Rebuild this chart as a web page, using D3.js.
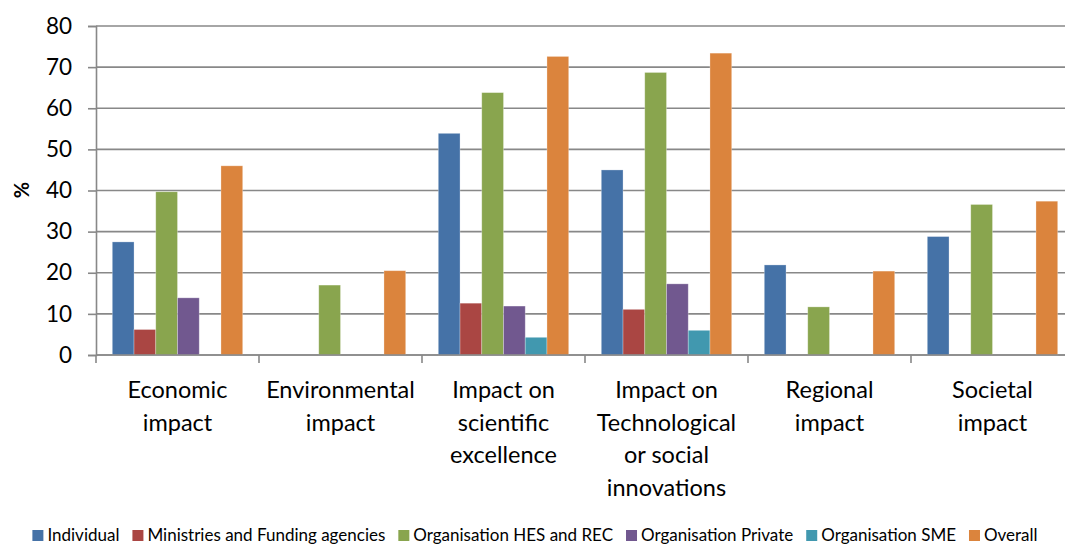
<!DOCTYPE html>
<html><head><meta charset="utf-8">
<script src="https://cdn.jsdelivr.net/npm/d3@7"></script>
<style>body{margin:0;background:#fff}svg{display:block}text{font-family:Lato,"Open Sans",sans-serif;fill:#000}</style>
</head><body><svg id="c" width="1065" height="546"></svg>
<script>
const categories = [
  ["Economic","impact"],
  ["Environmental","impact"],
  ["Impact on","scientific","excellence"],
  ["Impact on","Technological","or social","innovations"],
  ["Regional","impact"],
  ["Societal","impact"]
];
const seriesNames = ["Individual","Ministries and Funding agencies","Organisation HES and REC","Organisation Private","Organisation SME","Overall"];
const individual = [27.5, 0, 53.9, 45.0, 21.9, 28.8];
const ministries = [6.2, 0, 12.6, 11.1, 0, 0];
const hesRec     = [39.7, 17.0, 63.8, 68.7, 11.7, 36.6];
const privateOrg = [13.9, 0, 11.9, 17.3, 0, 0];
const sme        = [0, 0, 4.3, 6.0, 0, 0];
const overall    = [46.0, 20.5, 72.6, 73.4, 20.4, 37.4];
const yTicks = [0,10,20,30,40,50,60,70,80];
const colors = ["#4572A7","#AA4643","#89A54E","#71588F","#4198AF","#DB843D"];
const series = [individual, ministries, hesRec, privateOrg, sme, overall];

const svg = d3.select("#c");
const pL = 96, pR = 1074, pT = 26, pB = 355;
const x0 = d3.scaleBand().domain(d3.range(categories.length)).range([pL, pR]).paddingInner(0.2).paddingOuter(0.1);
const x1 = d3.scaleBand().domain(d3.range(series.length)).range([0, x0.bandwidth()]);
const y = d3.scaleLinear().domain([0, 80]).range([pB, pT]);
const step = x0.step();

// gridlines
svg.append("g").selectAll("line").data(yTicks).join("line")
  .attr("x1", pL).attr("x2", 1065)
  .attr("y1", d => y(d)).attr("y2", d => y(d))
  .attr("stroke", "#888").attr("stroke-width", 1.6);

// y axis
const ya = svg.append("g").attr("transform", `translate(${pL},0)`)
  .call(d3.axisLeft(y).tickValues(yTicks).tickSize(8).tickPadding(16));
ya.select(".domain").attr("stroke", "#888").attr("stroke-width", 1.6);
ya.selectAll(".tick line").attr("stroke", "#888").attr("stroke-width", 1.6);
ya.selectAll(".tick text").style("font-size", "22.5px").attr("font-family", "Lato");

// bars
series.forEach((vals, si) => {
  svg.append("g").selectAll("rect").data(vals).join("rect")
    .attr("x", (d, i) => x0(i) + x1(si))
    .attr("width", x1.bandwidth())
    .attr("y", d => y(d))
    .attr("height", d => y(0) - y(d))
    .attr("fill", colors[si])
    .attr("stroke", "rgba(255,255,255,0.35)").attr("stroke-width", 0.8);
});

// x axis
svg.append("line").attr("x1", pL).attr("x2", 1065).attr("y1", pB).attr("y2", pB)
  .attr("stroke", "#888").attr("stroke-width", 1.6);
const bounds = d3.range(categories.length + 1).map(i => pL + i * step);
svg.append("g").selectAll("line").data(bounds).join("line")
  .attr("x1", d => d).attr("x2", d => d).attr("y1", pB).attr("y2", pB + 8)
  .attr("stroke", "#888").attr("stroke-width", 1.6);

// category labels
const cl = svg.append("g").selectAll("text").data(categories).join("text")
  .attr("text-anchor", "middle").style("font-size", "23.5px");
cl.each(function(lines, i) {
  const cx = x0(i) + x0.bandwidth() / 2;
  d3.select(this).selectAll("tspan").data(lines).join("tspan")
    .attr("x", cx).attr("y", (d, k) => 398 + k * 32.7).text(d => d);
});

// y title
svg.append("text").attr("transform", "translate(29,190) rotate(-90)")
  .attr("text-anchor", "middle").style("font-size", "20px").style("font-weight", "bold").text("%");

// legend
const lg = svg.append("g");
const items = lg.selectAll("g").data(seriesNames).join("g");
items.append("rect").attr("width", 11).attr("height", 11).attr("fill", (d, i) => colors[i]);
items.append("text").attr("x", 15).attr("y", 11).style("font-size", "17px").text(d => d);
let xpos = 0; const gap = 13;
items.each(function() {
  const w = this.querySelector("text").getComputedTextLength() + 15;
  d3.select(this).attr("data-x", xpos);
  xpos += w + gap;
});
const total = xpos - gap;
const startX = 535 - total / 2;
items.attr("transform", function() { return `translate(${startX + +this.getAttribute("data-x")},530)`; });
</script></body></html>
